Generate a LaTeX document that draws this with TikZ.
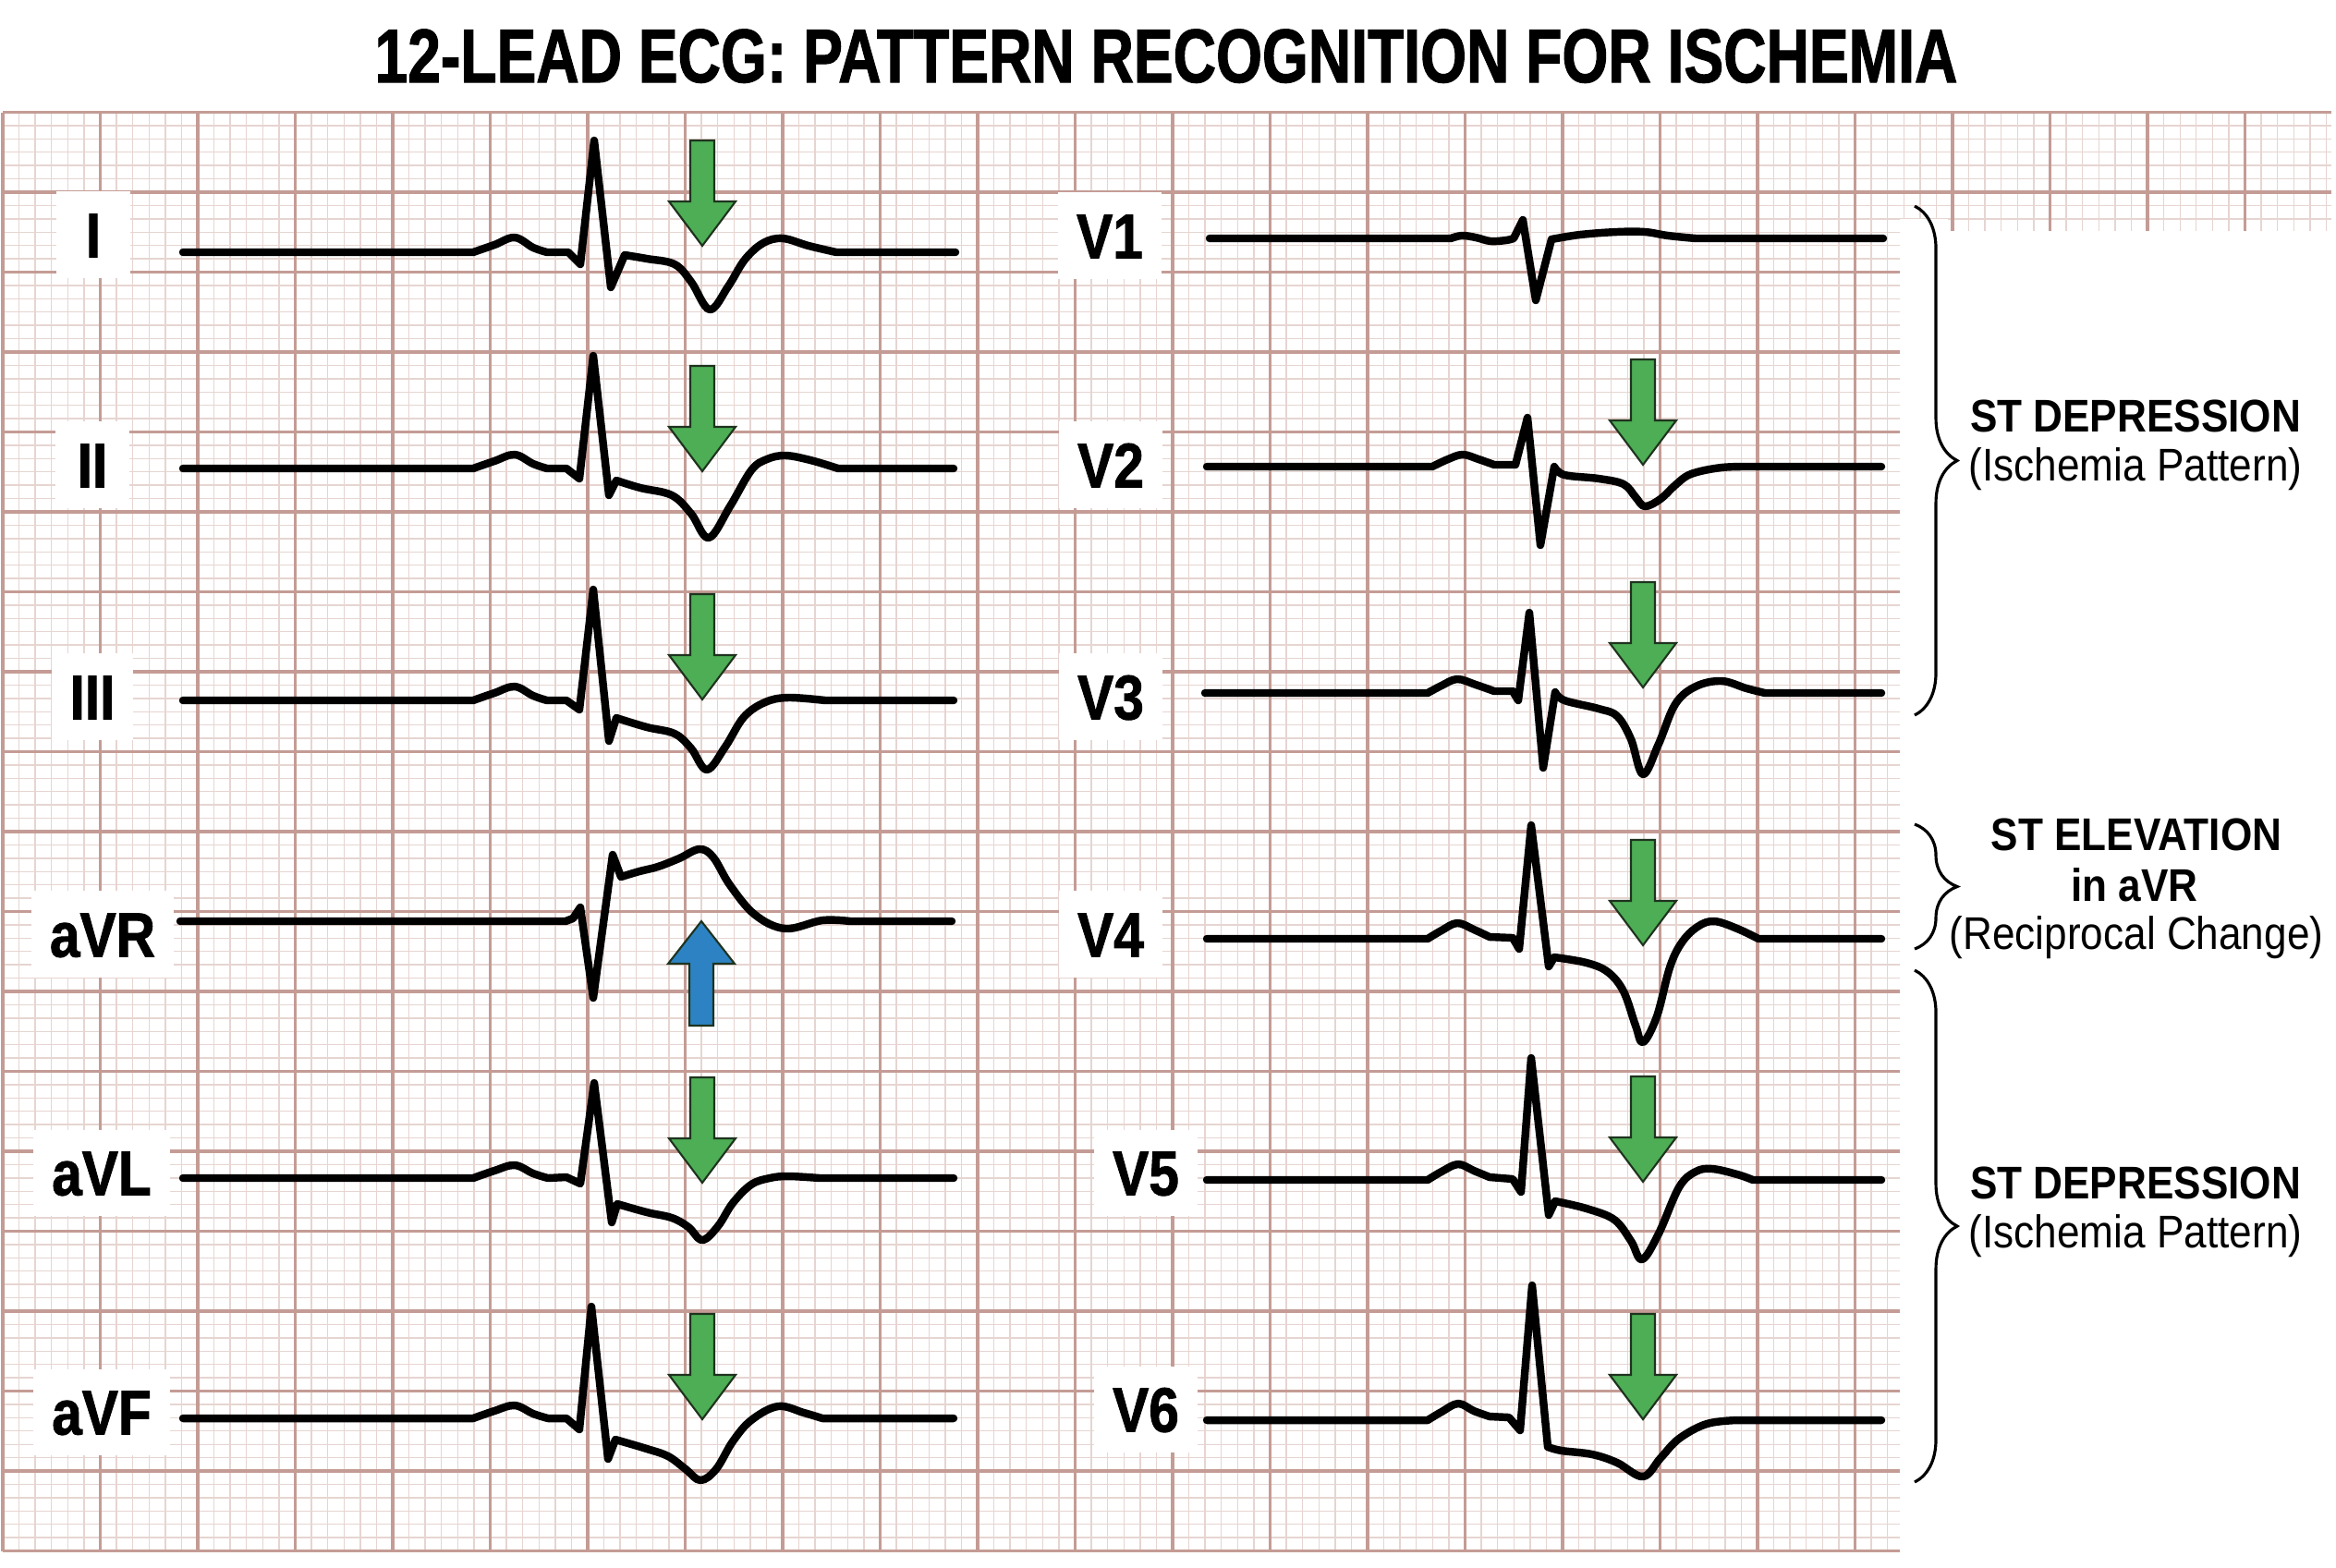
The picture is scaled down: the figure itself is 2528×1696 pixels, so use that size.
\documentclass[tikz,border=0pt]{standalone}
\usepackage{fontspec}
\setmainfont{Liberation Sans}
\newfontfamily\titlefont{Liberation Sans}[FakeStretch=0.78, BoldFeatures={FakeBold=1.3}]
\newfontfamily\leadfont{Liberation Sans}[FakeStretch=0.86, BoldFeatures={FakeBold=1.3}]
\newfontfamily\notefont{Liberation Sans}[FakeStretch=0.89]
\usetikzlibrary{decorations.pathreplacing, positioning}
\definecolor{ECG_Major}{HTML}{C49C95}
\definecolor{ECG_Minor}{HTML}{E6D5D1}
\definecolor{ST_Green}{HTML}{4DAE55}
\definecolor{ST_Blue}{HTML}{2D82C3}
\definecolor{Arrow_Edge}{HTML}{1E331E}

\tikzset{
  minorline/.style={ECG_Minor, line width=0.4pt},
  majorline/.style={ECG_Major, line width=0.9pt},
  trace/.style={black, line width=2.4pt, line join=round, line cap=round},
  leadlabel/.style={fill=white, font=\leadfont\bfseries\fontsize{19.4pt}{20pt}\selectfont,
    text height=0.49cm, text depth=0pt, inner xsep=0.2cm, inner ysep=0.22cm, minimum width=0.8cm},
  note/.style={anchor=base, font=\notefont\fontsize{14.1pt}{15pt}\selectfont},
  notebold/.style={anchor=base, font=\notefont\bfseries\fontsize{14.1pt}{15pt}\selectfont},
  stbrace/.style={decorate, decoration={brace, amplitude=0.46cm}, line width=0.9pt},
  greenarrow/.style={draw=Arrow_Edge, line width=0.6pt, fill=ST_Green},
  bluearrow/.style={draw=Arrow_Edge, line width=0.6pt, fill=ST_Blue},
}

% arrow shapes, tip at (#1,#2)
\newcommand{\stdown}[2]{\filldraw[greenarrow] (#1,#2) -- ++(-36,-48) -- ++(23,0) -- ++(0,-66) -- ++(26,0) -- ++(0,66) -- ++(23,0) -- cycle;}
\newcommand{\stup}[2]{\filldraw[bluearrow] (#1,#2) -- ++(-36,46) -- ++(23,0) -- ++(0,67) -- ++(26,0) -- ++(0,-67) -- ++(23,0) -- cycle;}

\begin{document}
\begin{tikzpicture}[x=0.01cm, y=-0.01cm]
    \useasboundingbox (0,0) rectangle (2528,1696);
    \fill[white] (0,0) rectangle (2528,1696);

    % ECG paper
    \foreach \i in {0,...,143} \draw[minorline] ({3+17.5833*\i},121.5) -- ({3+17.5833*\i},1678.5);
    \foreach \j in {0,...,108} \draw[minorline] (3,{121.5+14.4167*\j}) -- (2523,{121.5+14.4167*\j});
    \foreach \i in {0,...,23} \draw[majorline] ({3+105.5*\i},121.5) -- ({3+105.5*\i},1678.5);
    \foreach \j in {0,...,18} \draw[majorline] (3,{121.5+86.5*\j}) -- (2523,{121.5+86.5*\j});
    \fill[white] (2056,237) rectangle (2108,1696);
    \fill[white] (2108,250) rectangle (2528,1696);

    % Title
    \node[anchor=base, font=\titlefont\bfseries\fontsize{23.4pt}{24pt}\selectfont] (title) at (1262,89)
        {12-LEAD ECG: PATTERN RECOGNITION FOR ISCHEMIA};

    % Limb leads
    \node[leadlabel] (lblI) at (101,254) {I};
    \node[leadlabel] (lblII) at (100,503) {II};
    \node[leadlabel] (lblIII) at (100,754) {III};
    \node[leadlabel] (lblaVR) at (111,1011) {aVR};
    \node[leadlabel] (lblaVL) at (110,1269) {aVL};
    \node[leadlabel] (lblaVF) at (110,1528) {aVF};

    % Chest leads
    \node[leadlabel] (lblV1) at (1201,255) {V1};
    \node[leadlabel] (lblV2) at (1202,503) {V2};
    \node[leadlabel] (lblV3) at (1202,754) {V3};
    \node[leadlabel] (lblV4) at (1202,1011) {V4};
    \node[leadlabel] (lblV5) at (1240,1269) {V5};
    \node[leadlabel] (lblV6) at (1240,1525) {V6};

    % Traces I, II, III
    \draw[trace] (198,273) -- (512,273) -- plot[smooth,tension=.6] coordinates {(512,273) (535,265) (557,257) (577,268) (592,273)}
        -- (615,273) -- (628,286) -- (643,152) -- (661,311) -- (676,276)
        -- plot[smooth,tension=.6] coordinates {(676,276) (700,280) (730,286) (748,305) (768,335) (788,310) (806,281) (826,263) (847,258) (875,266) (905,273)} -- (1034,273);
    \draw[trace] (198,507) -- (512,507) -- plot[smooth,tension=.6] coordinates {(512,507) (535,499) (557,492) (577,502) (592,507)}
        -- (613,507) -- (627,518) -- (642,385) -- (659,536) -- (667,520)
        -- plot[smooth,tension=.6] coordinates {(667,520) (693,528) (727,536) (748,556) (767,582) (790,548) (813,509) (830,497) (850,493) (877,498) (907,507)} -- (1032,507);
    \draw[trace] (198,758) -- (512,758) -- plot[smooth,tension=.6] coordinates {(512,758) (535,750) (557,743) (577,753) (592,758)}
        -- (613,758) -- (627,768) -- (642,638) -- (659,802) -- (667,777)
        -- plot[smooth,tension=.6] coordinates {(667,777) (700,787) (730,794) (748,810) (765,833) (785,808) (805,776) (828,760) (853,755) (893,758)} -- (1032,758);

    % Traces aVR, aVL, aVF
    \draw[trace] (195,997) -- (612,997) -- (620,994) -- (628,982) -- (642,1080) -- (663,925) -- (672,949)
        -- plot[smooth,tension=.6] coordinates {(672,949) (692,943) (712,938) (735,929) (757,919) (772,928) (790,958) (817,990) (850,1005) (890,996) (920,997)} -- (1030,997);
    \draw[trace] (198,1275) -- (512,1275) -- plot[smooth,tension=.6] coordinates {(512,1275) (535,1267) (557,1261) (577,1270) (593,1275)}
        -- (613,1274) -- (628,1281) -- (643,1172) -- (662,1323) -- (668,1303)
        -- plot[smooth,tension=.6] coordinates {(668,1303) (700,1312) (727,1318) (745,1328) (760,1342) (777,1327) (793,1302) (813,1282) (833,1275) (853,1273) (887,1275)} -- (1032,1275);
    \draw[trace] (198,1535) -- (512,1535) -- plot[smooth,tension=.6] coordinates {(512,1535) (535,1527) (557,1521) (577,1530) (593,1535)}
        -- (613,1535) -- (627,1547) -- (640,1414) -- (658,1579) -- (666,1558)
        -- plot[smooth,tension=.6] coordinates {(666,1558) (700,1568) (723,1576) (742,1590) (758,1602) (775,1590) (793,1560) (813,1537) (842,1522) (870,1529) (890,1535)} -- (1032,1535);

    % Traces V1 - V6
    \draw[trace] (1309,258) -- (1570,258) -- plot[smooth,tension=.6] coordinates {(1570,258) (1582,255) (1597,257) (1613,261) (1630,260) (1638,258)}
        -- (1648,238) -- (1662,325) -- (1679,259)
        -- plot[smooth,tension=.6] coordinates {(1679,259) (1710,254) (1750,251) (1780,251) (1805,255) (1835,258)} -- (2038,258);
    \draw[trace] (1306,505) -- (1550,505) -- plot[smooth,tension=.6] coordinates {(1550,505) (1567,497) (1583,492) (1600,497) (1617,503)}
        -- (1640,503) -- (1653,452) -- (1667,590) -- (1682,505)
        -- plot[smooth,tension=.6] coordinates {(1682,505) (1693,514) (1730,518) (1757,524) (1770,538) (1780,548) (1797,540) (1813,525) (1830,513) (1863,506) (1897,505)} -- (2036,505);
    \draw[trace] (1304,750) -- (1545,750) -- plot[smooth,tension=.6] coordinates {(1545,750) (1560,742) (1577,735) (1597,741) (1617,748)}
        -- (1637,748) -- (1643,758) -- (1655,663) -- (1670,831) -- (1683,749)
        -- plot[smooth,tension=.6] coordinates {(1683,749) (1693,758) (1730,767) (1750,775) (1765,800) (1778,838) (1795,805) (1813,762) (1835,743) (1863,737) (1890,745) (1910,750)} -- (2036,750);
    \draw[trace] (1306,1016) -- (1545,1016) -- plot[smooth,tension=.6] coordinates {(1545,1016) (1560,1007) (1577,999) (1595,1006) (1612,1014)}
        -- (1637,1015) -- (1644,1027) -- (1657,893) -- (1676,1046) -- (1682,1036)
        -- plot[smooth,tension=.6] coordinates {(1682,1036) (1717,1042) (1740,1052) (1757,1073) (1770,1110) (1778,1128) (1793,1100) (1807,1047) (1820,1020) (1837,1003) (1855,997) (1880,1005) (1903,1016)} -- (2036,1016);
    \draw[trace] (1306,1277) -- (1545,1277) -- plot[smooth,tension=.6] coordinates {(1545,1277) (1560,1268) (1578,1260) (1595,1267) (1612,1274)}
        -- (1637,1276) -- (1646,1290) -- (1657,1145) -- (1676,1315) -- (1683,1300)
        -- plot[smooth,tension=.6] coordinates {(1683,1300) (1717,1308) (1747,1320) (1765,1343) (1777,1363) (1795,1335) (1817,1285) (1835,1268) (1853,1265) (1880,1271) (1897,1277)} -- (2036,1277);
    \draw[trace] (1306,1537) -- (1545,1537) -- plot[smooth,tension=.6] coordinates {(1545,1537) (1560,1528) (1578,1519) (1595,1527) (1612,1533)}
        -- (1633,1534) -- (1645,1548) -- (1658,1391) -- (1675,1566)
        -- plot[smooth,tension=.6] coordinates {(1675,1566) (1690,1570) (1723,1574) (1750,1583) (1778,1598) (1797,1578) (1817,1557) (1847,1541) (1880,1537)} -- (2036,1537);

    % ST arrows
    \stdown{760}{266}
    \stdown{760}{510}
    \stdown{760}{757}
    \stup{759}{997}
    \stdown{760}{1280}
    \stdown{760}{1536}
    \stdown{1778}{503}
    \stdown{1778}{744}
    \stdown{1778}{1023}
    \stdown{1778}{1279}
    \stdown{1778}{1536}

    % Braces
    \coordinate (b1top) at (2072,223);
    \coordinate (b1bot) at (2072,774);
    \coordinate (b2top) at (2072,892);
    \coordinate (b2bot) at (2072,1027);
    \coordinate (b3top) at (2072,1050);
    \coordinate (b3bot) at (2072,1604);
    \draw[stbrace] (b1top) -- (b1bot);
    \draw[stbrace] (b2top) -- (b2bot);
    \draw[stbrace] (b3top) -- (b3bot);

    % Notes
    \node[notebold] (dep1) at (2311,467) {ST DEPRESSION};
    \node[note] (isch1) at (2311,520) {(Ischemia Pattern)};
    \node[notebold] (elev) at (2312,920) {ST ELEVATION};
    \node[notebold] (inavr) at (2310,975) {in aVR};
    \node[note] (recip) at (2312,1027) {(Reciprocal Change)};
    \node[notebold] (dep2) at (2311,1297) {ST DEPRESSION};
    \node[note] (isch2) at (2311,1350) {(Ischemia Pattern)};
\end{tikzpicture}
\end{document}
